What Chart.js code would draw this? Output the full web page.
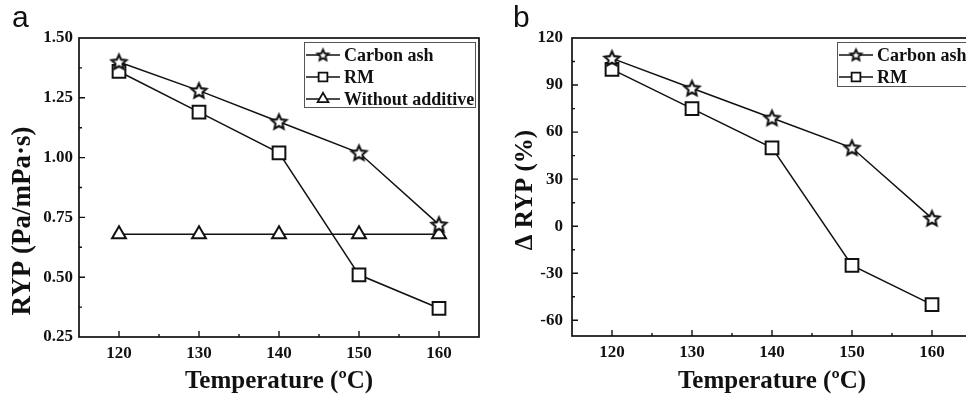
<!DOCTYPE html>
<html>
<head>
<meta charset="utf-8">
<script src="https://cdn.jsdelivr.net/npm/chart.js@4"></script>
<style>
  html, body { margin: 0; padding: 0; background: #fff; }
  body { width: 966px; height: 394px; position: relative; overflow: hidden; }
  .panel { position: absolute; top: 0; height: 394px; overflow: hidden; }
  .tag { position: absolute; top: 2px; font: 30px "Liberation Sans", Arial, sans-serif; line-height: 30px; color: #111; }
</style>
</head>
<body>
<div class="panel" style="left:0;width:483px"><canvas id="ryp" width="490" height="394"></canvas></div>
<div class="panel" style="left:483px;width:483px"><canvas id="delta" width="500" height="394"></canvas></div>
<div class="tag" style="left:12px">a</div>
<div class="tag" style="left:513px">b</div>
<script>
// temperatures (°C)
const temps = [120, 130, 140, 150, 160];
// RYP (Pa/mPa·s)
const rypCarbonAsh = [1.40, 1.28, 1.15, 1.02, 0.72];
const rypRM = [1.36, 1.19, 1.02, 0.51, 0.37];
const rypNoAdditive = [0.68, 0.68, 0.68, 0.68, 0.68];
// change of RYP vs. no additive (%)
const deltaCarbonAsh = [107, 88, 69, 50, 5];
const deltaRM = [100, 75, 50, -25, -50];
// tick positions on the ΔRYP axis (labelled every 30)
const deltaTicks = [-60, -45, -30, -15, 0, 15, 30, 45, 60, 75, 90, 105, 120];

const serif = '"Liberation Serif", "Times New Roman", serif';
const ink = '#111';

const isMultiple = (v, step) => Math.abs(v / step - Math.round(v / step)) < 1e-6;
const toPoints = (ys) => temps.map((t, i) => ({ x: t, y: ys[i] }));

// hollow five-pointed star used as a marker
function starMarker(r, lw) {
  const size = Math.ceil(r * 2 + 5);
  const c = document.createElement('canvas');
  c.width = c.height = size;
  const g = c.getContext('2d');
  const cx = size / 2, cy = size / 2 + r * 0.08;
  g.beginPath();
  for (let i = 0; i < 10; i++) {
    const rad = i % 2 === 0 ? r : r * 0.47;
    const a = -Math.PI / 2 + i * Math.PI / 5;
    const px = cx + rad * Math.cos(a), py = cy + rad * Math.sin(a);
    i === 0 ? g.moveTo(px, py) : g.lineTo(px, py);
  }
  g.closePath();
  g.fillStyle = '#fff';
  g.fill();
  g.lineWidth = lw;
  g.lineJoin = 'miter';
  g.strokeStyle = ink;
  g.stroke();
  return c;
}
const bigStar = starMarker(7.8, 2.1);
const smallStar = starMarker(5.8, 1.9);

function series(label, ys, style, radius, key) {
  return {
    label,
    data: toPoints(ys),
    borderColor: ink,
    borderWidth: 1.5,
    pointStyle: style,
    pointRadius: radius,
    pointBackgroundColor: '#fff',
    pointBorderColor: ink,
    pointBorderWidth: 2,
    tension: 0,
    fill: false,
    keyPoint: key
  };
}

// box around the plot plus short inward ticks
const frameTicks = {
  id: 'frameTicks',
  afterDraw(chart, args, opts) {
    const { ctx, chartArea: a, scales: { x, y } } = chart;
    ctx.save();
    ctx.strokeStyle = ink;
    ctx.lineWidth = 1.7;
    ctx.strokeRect(a.left, a.top, a.right - a.left, a.bottom - a.top);
    ctx.lineWidth = 1.4;
    ctx.beginPath();
    x.ticks.forEach(t => {
      if (t.value <= x.min || t.value >= x.max) return;
      const px = x.getPixelForValue(t.value);
      const len = isMultiple(t.value, opts.xMajor) ? 6 : 3;
      ctx.moveTo(px, a.bottom);
      ctx.lineTo(px, a.bottom - len);
    });
    y.ticks.forEach(t => {
      if (t.value <= y.min || t.value >= y.max) return;
      if (!isMultiple(t.value, opts.yMinor)) return;
      const py = y.getPixelForValue(t.value);
      const len = isMultiple(t.value, opts.yMajor) ? 6 : 3;
      ctx.moveTo(a.left, py);
      ctx.lineTo(a.left + len, py);
    });
    ctx.stroke();
    ctx.restore();
  }
};

// boxed key in the upper right corner
const boxLegend = {
  id: 'boxLegend',
  afterDraw(chart, args, opts) {
    const { ctx } = chart;
    ctx.save();
    ctx.strokeStyle = '#555';
    ctx.lineWidth = 1;
    ctx.strokeRect(opts.left + 0.5, opts.top + 0.5, opts.width, opts.height);
    ctx.font = 'bold 18px ' + serif;
    ctx.textBaseline = 'middle';
    chart.data.datasets.forEach((ds, i) => {
      const yy = opts.top + opts.first + i * opts.gap;
      const x0 = opts.left + 2;
      ctx.strokeStyle = ink;
      ctx.lineWidth = 1.5;
      ctx.beginPath();
      ctx.moveTo(x0, yy);
      ctx.lineTo(x0 + 34, yy);
      ctx.stroke();
      ctx.fillStyle = '#fff';
      ctx.lineWidth = 1.8;
      Chart.helpers.drawPoint(ctx, {
        pointStyle: ds.keyPoint.style, radius: ds.keyPoint.radius, borderWidth: 1.8, rotation: 0
      }, x0 + 17, yy);
      ctx.fillStyle = ink;
      ctx.fillText(ds.label, x0 + 38, yy + 1);
    });
    ctx.restore();
  }
};

// rotated y axis caption
const sideTitle = {
  id: 'sideTitle',
  afterDraw(chart, args, opts) {
    const { ctx } = chart;
    ctx.save();
    ctx.translate(opts.x, opts.y);
    ctx.rotate(-Math.PI / 2);
    ctx.font = `bold ${opts.size}px ${serif}`;
    ctx.textAlign = 'center';
    ctx.textBaseline = 'middle';
    ctx.fillStyle = ink;
    ctx.fillText(opts.text, 0, 0);
    ctx.restore();
  }
};

function buildOptions(cfg) {
  const y = {
    min: cfg.yMin, max: cfg.yMax,
    grid: { display: false, drawTicks: false },
    border: { display: false },
    afterFit: (s) => { s.width = cfg.yWidth; },
    ticks: {
      stepSize: cfg.yStep,
      autoSkip: false,
      padding: cfg.yPad,
      color: ink,
      font: { family: serif, size: 17, weight: 'bold' },
      callback: cfg.yLabel
    }
  };
  if (cfg.yTicks) {
    y.afterBuildTicks = (s) => { s.ticks = cfg.yTicks.map(v => ({ value: v })); };
  }
  return {
    responsive: false,
    animation: false,
    devicePixelRatio: 1,
    layout: { padding: { left: 0, right: 10, top: 38, bottom: 0 } },
    scales: {
      x: {
        type: 'linear',
        min: 115, max: 165,
        grid: { display: false, drawTicks: false },
        border: { display: false },
        afterFit: (s) => { s.height = cfg.xHeight; },
        ticks: {
          stepSize: 5,
          autoSkip: false,
          maxRotation: 0,
          padding: 6,
          color: ink,
          font: { family: serif, size: 17, weight: 'bold' },
          callback: (v) => (v % 10 === 0 && v >= 120 && v <= 160) ? String(v) : ''
        },
        title: {
          display: true,
          text: 'Temperature (ºC)',
          color: ink,
          padding: { top: 0, bottom: 0 },
          font: { family: serif, size: 25, weight: 'bold', lineHeight: 1 }
        }
      },
      y
    },
    plugins: {
      legend: { display: false },
      tooltip: { enabled: false },
      frameTicks: { xMajor: 10, yMinor: cfg.yMinor, yMajor: cfg.yMajor },
      boxLegend: cfg.legend,
      sideTitle: cfg.side
    }
  };
}

new Chart(document.getElementById('ryp'), {
  type: 'line',
  data: {
    datasets: [
      series('Carbon ash', rypCarbonAsh, bigStar, 7.8, { style: smallStar, radius: 5.8 }),
      series('RM', rypRM, 'rect', 9, { style: 'rect', radius: 6.2 }),
      series('Without additive', rypNoAdditive, 'triangle', 8, { style: 'triangle', radius: 6.2 })
    ]
  },
  options: buildOptions({
    yMin: 0.25, yMax: 1.5, yStep: 0.125, yMinor: 0.125, yMajor: 0.25,
    yWidth: 79, xHeight: 57, yPad: 6,
    yLabel: (v) => isMultiple(v, 0.25) ? v.toFixed(2) : '',
    legend: { left: 304, top: 42, width: 171, height: 65, first: 13, gap: 22 },
    side: { x: 23, y: 221, size: 27, text: 'RYP (Pa/mPa·s)' }
  }),
  plugins: [frameTicks, boxLegend, sideTitle]
});

new Chart(document.getElementById('delta'), {
  type: 'line',
  data: {
    datasets: [
      series('Carbon ash', deltaCarbonAsh, bigStar, 7.8, { style: smallStar, radius: 5.8 }),
      series('RM', deltaRM, 'rect', 9, { style: 'rect', radius: 6.2 })
    ]
  },
  options: buildOptions({
    yMin: -70, yMax: 120, yStep: 15, yMinor: 15, yMajor: 30,
    yWidth: 89, xHeight: 58, yPad: 9,
    yTicks: deltaTicks,
    yLabel: (v) => isMultiple(v, 30) ? String(v) : '',
    legend: { left: 354, top: 42, width: 170, height: 44, first: 13, gap: 22 },
    side: { x: 43, y: 190, size: 25, text: 'Δ RYP (%)' }
  }),
  plugins: [frameTicks, boxLegend, sideTitle]
});
</script>
</body>
</html>
